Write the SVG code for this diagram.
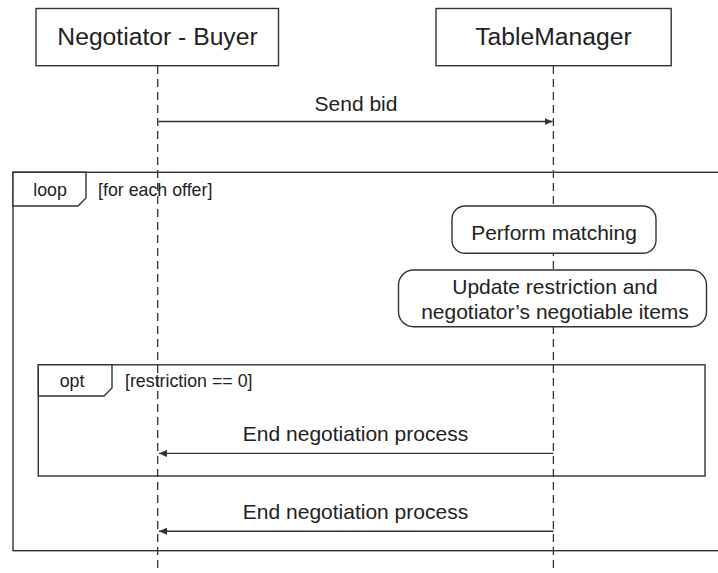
<svg xmlns="http://www.w3.org/2000/svg" width="718" height="573" viewBox="0 0 718 573">
  <style>
    .box { fill: #ffffff; stroke: #333333; stroke-width: 1.4; }
    .frame { fill: none; stroke: #333333; stroke-width: 1.4; }
    .tab { fill: #ffffff; stroke: #333333; stroke-width: 1.4; stroke-linejoin: miter; }
    .life { stroke: #333333; stroke-width: 1.3; stroke-dasharray: 8 5; fill: none; }
    .msg { stroke: #333333; stroke-width: 1.4; fill: none; }
    text { font-family: "Liberation Sans", Arial, Helvetica, sans-serif; fill: #222222; }
    .head { font-size: 24.7px; text-anchor: middle; }
    .lbl { font-size: 21px; text-anchor: middle; }
    .tag { font-size: 17.8px; }
    .tagc { font-size: 17.8px; text-anchor: middle; }
  </style>
  <defs>
    <marker id="arrow" markerUnits="userSpaceOnUse" markerWidth="8" markerHeight="7" refX="8" refY="3.5" orient="auto">
      <path d="M0,0 L8,3.5 L0,7 z" fill="#333333"/>
    </marker>
  </defs>

  <rect width="718" height="573" fill="#ffffff"/>

  <!-- lifelines -->
  <g id="lifelines">
    <line class="life" x1="157.7" y1="66" x2="157.7" y2="573"/>
    <line class="life" x1="553.4" y1="66" x2="553.4" y2="573"/>
  </g>

  <!-- combined fragments -->
  <g id="loop-fragment">
    <rect class="frame" x="13" y="172.3" width="720" height="378.4"/>
    <path class="tab" d="M13,172.3 H86 V198 L78,206 H13 Z"/>
    <text class="tagc" x="50" y="196">loop</text>
    <text class="tag" x="98" y="196">[for each offer]</text>
  </g>

  <g id="opt-fragment">
    <rect class="frame" x="38.3" y="364.8" width="666.7" height="111.2"/>
    <path class="tab" d="M38.3,364.8 H112 V388 L104,396 H38.3 Z"/>
    <text class="tagc" x="72" y="387">opt</text>
    <text class="tag" x="125" y="387">[restriction == 0]</text>
  </g>

  <!-- participants -->
  <g id="buyer">
    <rect class="box" x="36" y="8.5" width="242.5" height="57.2"/>
    <text class="head" x="157.5" y="45">Negotiator - Buyer</text>
  </g>
  <g id="table-manager">
    <rect class="box" x="436" y="8.5" width="235.2" height="57.2"/>
    <text class="head" x="553.5" y="45">TableManager</text>
  </g>

  <!-- activities on TableManager -->
  <g id="perform-matching">
    <rect class="box" x="452" y="206" width="204" height="47.3" rx="13" ry="13"/>
    <text class="lbl" x="554" y="239.5">Perform matching</text>
  </g>
  <g id="update-restriction">
    <rect class="box" x="398.5" y="270" width="308" height="56.7" rx="15" ry="15"/>
    <text class="lbl" x="555" y="293.5">Update restriction and</text>
    <text class="lbl" x="555" y="318.5">negotiator’s negotiable items</text>
  </g>

  <!-- messages -->
  <g id="connectors">
    <line class="msg" x1="158.4" y1="121.5" x2="552.6" y2="121.5" marker-end="url(#arrow)"/>
    <text class="lbl" x="356" y="110.5">Send bid</text>

    <line class="msg" x1="553.4" y1="453.4" x2="159" y2="453.4" marker-end="url(#arrow)"/>
    <text class="lbl" x="355.5" y="440.5">End negotiation process</text>

    <line class="msg" x1="553.4" y1="531.2" x2="159" y2="531.2" marker-end="url(#arrow)"/>
    <text class="lbl" x="355.5" y="518.5">End negotiation process</text>
  </g>
</svg>
